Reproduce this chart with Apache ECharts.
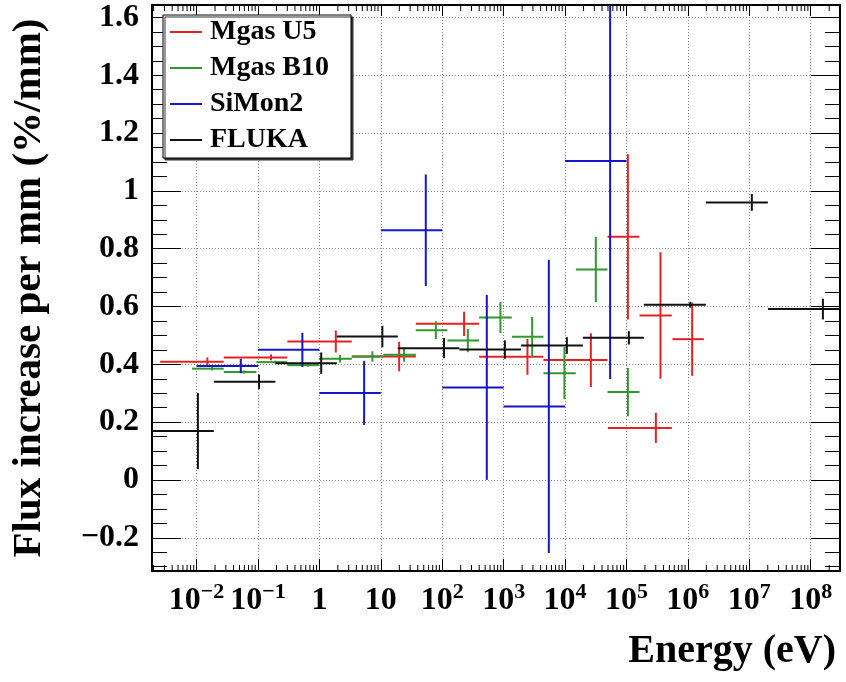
<!DOCTYPE html>
<html><head><meta charset="utf-8">
<script src="https://cdn.jsdelivr.net/npm/echarts@6/dist/echarts.min.js"></script>
<style>html,body{margin:0;padding:0;background:#fff}#c{width:846px;height:682px}</style>
</head><body><div id="c"></div>
<script>
// Each bin: [E low (eV), E high (eV), E at error bar (eV), value (%/mm), error]
const mgasU5 = [
  [2.55e-3, 0.0277, 0.015, 0.409, 0.015],
  [0.0277, 0.301, 0.163, 0.424, 0.010],
  [0.301, 3.37, 1.85, 0.479, 0.038],
  [3.37, 37.2, 19.9, 0.427, 0.051],
  [37.2, 399, 227, 0.540, 0.042],
  [399, 4448, 2442, 0.426, 0.062],
  [4448, 49100, 26300, 0.4145, 0.093],
  [49100, 163000, 105400, 0.841, 0.286],
  [163000, 548000, 358000, 0.569, 0.219],
  [561000, 1.82e6, 1.175e6, 0.487, 0.127],
  [49900, 548000, 301000, 0.180, 0.052]
];
const mgasB10 = [
  [8.45e-3, 0.0277, 0.0179, 0.385, 0.006],
  [0.0277, 0.0942, 0.0587, 0.373, 0.005],
  [0.0942, 0.301, 0.192, 0.4076, 0.005],
  [0.301, 0.98, 0.655, 0.397, 0.005],
  [0.98, 3.37, 2.17, 0.419, 0.013],
  [3.37, 11.0, 7.3, 0.427, 0.018],
  [11.0, 37.2, 23.9, 0.433, 0.024],
  [37.2, 121.5, 78.7, 0.518, 0.031],
  [121.5, 399, 261, 0.482, 0.040],
  [399, 1361, 887, 0.562, 0.054],
  [1361, 4448, 2914, 0.495, 0.069],
  [4448, 15000, 9772, 0.3695, 0.0905],
  [15000, 49100, 31700, 0.728, 0.1125],
  [49100, 163000, 105400, 0.304, 0.0835]
];
const siMon2 = [
  [0.01, 0.1, 0.0525, 0.394, 0.025],
  [0.1, 1, 0.528, 0.450, 0.059],
  [1, 10, 5.35, 0.301, 0.111],
  [10, 100, 54, 0.864, 0.193],
  [100, 1000, 532, 0.320, 0.320],
  [1000, 10000, 5445, 0.254, 0.507],
  [10000, 1e5, 54200, 1.103, 0.754]
];
const fluka = [
  [1.8e-3, 0.0191, 0.0105, 0.169, 0.132],
  [0.0191, 0.192, 0.104, 0.3394, 0.025],
  [0.192, 1.92, 1.07, 0.404, 0.037],
  [1.92, 18.9, 10.6, 0.496, 0.037],
  [18.9, 190.5, 107, 0.456, 0.035],
  [190.5, 1928, 1047, 0.451, 0.032],
  [1928, 19500, 10700, 0.465, 0.029],
  [19500, 192000, 109400, 0.4917, 0.023],
  [192000, 1.96e6, 1.09e6, 0.606, 0.010],
  [1.96e6, 2.01e7, 1.10e7, 0.960, 0.029],
  [2.01e7, 3.0e8, 1.58e8, 0.591, 0.036]
];
const seriesNames = ['Mgas U5', 'Mgas B10', 'SiMon2', 'FLUKA'];
const seriesColors = ['#e32222', '#2f982f', '#1616c8', '#111111'];
const xDecades = [-3, -2, -1, 0, 1, 2, 3, 4, 5, 6, 7, 8];   // tick labels 10^n
const yTickLabels = [-0.2, 0, 0.2, 0.4, 0.6, 0.8, 1, 1.2, 1.4, 1.6];
const xRangeE = [1.88e-3, 3.0e8];
const yRange = [-0.315, 1.643];

const FONT = 'Liberation Serif';
const xMin = Math.log10(xRangeE[0]), xMax = Math.log10(xRangeE[1]);
const toLog = rows => rows.map(r => [Math.log10(r[0]), Math.log10(r[1]), Math.log10(r[2]), r[3], r[4]]);

function renderCross(params, api) {
  const y = api.value(3), e = api.value(4);
  const a = api.coord([api.value(0), y]);
  const b = api.coord([api.value(1), y]);
  const t = api.coord([api.value(2), y + e]);
  const d = api.coord([api.value(2), y - e]);
  const style = { stroke: api.visual('color'), lineWidth: 2 };
  return { type: 'group', children: [
    { type: 'line', shape: { x1: a[0], y1: a[1], x2: b[0], y2: b[1] }, style },
    { type: 'line', shape: { x1: t[0], y1: t[1], x2: d[0], y2: d[1] }, style }
  ]};
}

const minorX = [];
xDecades.forEach(d => { for (let k = 2; k <= 9; k++) { const v = d + Math.log10(k); if (v > xMin && v < xMax) minorX.push([v, yRange[0]]); } });

function renderMinor(params, api) {
  const b = api.coord([api.value(0), yRange[0]]);
  const t = api.coord([api.value(0), yRange[1]]);
  const st = { stroke: '#000', lineWidth: 1 };
  return { type: 'group', children: [
    { type: 'line', shape: { x1: b[0], y1: b[1], x2: b[0], y2: b[1] - 6 }, style: st },
    { type: 'line', shape: { x1: t[0], y1: t[1], x2: t[0], y2: t[1] + 6 }, style: st }
  ]};
}

function xLabel(v) {
  const n = Math.round(v);
  if (Math.abs(v - n) > 1e-6 || xDecades.indexOf(n) < 0) return '';
  if (n === 0) return '{b|1}';
  if (n === 1) return '{b|10}';
  return '{b|10}{s|' + (n < 0 ? '\u2212' + (-n) : n) + '}';
}
function yLabel(v) {
  const r = Math.round(v * 10) / 10;
  const hit = yTickLabels.some(t => Math.abs(t - v) < 1e-6);
  if (!hit) return '';
  return (r < 0 ? '\u2212' : '') + String(Math.abs(r));
}

const dataSets = [mgasU5, mgasB10, siMon2, fluka];
const series = dataSets.map((ds, i) => ({
  name: seriesNames[i], type: 'custom', renderItem: renderCross, clip: true,
  itemStyle: { color: seriesColors[i] }, encode: { x: [0, 1, 2], y: 3 },
  data: toLog(ds), silent: true, z: 3 + i
}));
series.push({ name: 'minor', type: 'custom', renderItem: renderMinor, data: minorX, encode: { x: 0, y: 1 }, silent: true, z: 10 });

const common = { min: xMin, max: xMax, splitNumber: 11, minInterval: 1, maxInterval: 1 };
const ycommon = { min: yRange[0], max: yRange[1], splitNumber: 10, minInterval: 0.2, maxInterval: 0.2 };

const chart = echarts.init(document.getElementById('c'), null, { renderer: 'canvas' });
chart.setOption({
  animation: false,
  backgroundColor: '#fff',
  grid: { left: 152, right: 6, top: 5, bottom: 111, containLabel: false, outerBoundsMode: 'none' },
  legend: {
    data: seriesNames, orient: 'vertical', left: 163, top: 15,
    icon: 'rect', itemWidth: 32, itemHeight: 2, itemGap: 6,
    padding: [2, 22, 3, 7], backgroundColor: '#fff', borderColor: '#000', borderWidth: 1,
    shadowColor: '#333', shadowOffsetX: 2, shadowOffsetY: 2, shadowBlur: 0,
    selectedMode: false,
    textStyle: { fontFamily: FONT, fontWeight: 'bold', fontSize: 28, lineHeight: 30, color: '#000', padding: [0, 0, 0, 3] }
  },
  xAxis: [
    Object.assign({ type: 'value', position: 'bottom',
      axisLine: { show: true, onZero: false, lineStyle: { color: '#000', width: 2 } },
      axisTick: { show: true, inside: true, length: 12, lineStyle: { color: '#000', width: 1 } },
      splitLine: { show: true, lineStyle: { color: '#8a8a8a', width: 1, type: [1, 2] } },
      axisLabel: { formatter: xLabel, margin: 10, color: '#000',
        rich: { b: { fontFamily: FONT, fontWeight: 'bold', fontSize: 32, lineHeight: 34, padding: [6, 0, 0, 0], color: '#000' },
                s: { fontFamily: FONT, fontWeight: 'bold', fontSize: 22, lineHeight: 16, verticalAlign: 'top', color: '#000' } } }
    }, common),
    Object.assign({ type: 'value', position: 'top',
      axisLine: { show: true, onZero: false, lineStyle: { color: '#000', width: 2 } },
      axisTick: { show: true, inside: true, length: 11, lineStyle: { color: '#000', width: 1 } },
      splitLine: { show: false }, axisLabel: { show: false }
    }, common)
  ],
  yAxis: [
    Object.assign({ type: 'value', position: 'left',
      name: 'Flux increase per mm (%/mm)', nameLocation: 'middle', nameRotate: 90, nameGap: 102,
      nameTextStyle: { fontFamily: FONT, fontWeight: 'bold', fontSize: 41, color: '#000' },
      axisLine: { show: true, onZero: false, lineStyle: { color: '#000', width: 2 } },
      axisTick: { show: true, inside: true, length: 29, lineStyle: { color: '#000', width: 1 } },
      minorTick: { show: true, splitNumber: 4, length: 15, lineStyle: { color: '#000', width: 1 } },
      splitLine: { show: true, lineStyle: { color: '#8a8a8a', width: 1, type: [1, 2] } },
      axisLabel: { formatter: yLabel, margin: 13, color: '#000', fontFamily: FONT, fontWeight: 'bold', fontSize: 32 }
    }, ycommon),
    Object.assign({ type: 'value', position: 'right',
      axisLine: { show: true, onZero: false, lineStyle: { color: '#000', width: 2 } },
      axisTick: { show: true, inside: true, length: 29, lineStyle: { color: '#000', width: 1 } },
      minorTick: { show: true, splitNumber: 4, length: 15, lineStyle: { color: '#000', width: 1 } },
      splitLine: { show: false }, axisLabel: { show: false }
    }, ycommon)
  ],
  graphic: [{
    type: 'text', right: 10, top: 632,
    style: { text: 'Energy (eV)', fontFamily: FONT, fontWeight: 'bold', fontSize: 40, fill: '#000' }
  }],
  series: series
});
</script></body></html>
